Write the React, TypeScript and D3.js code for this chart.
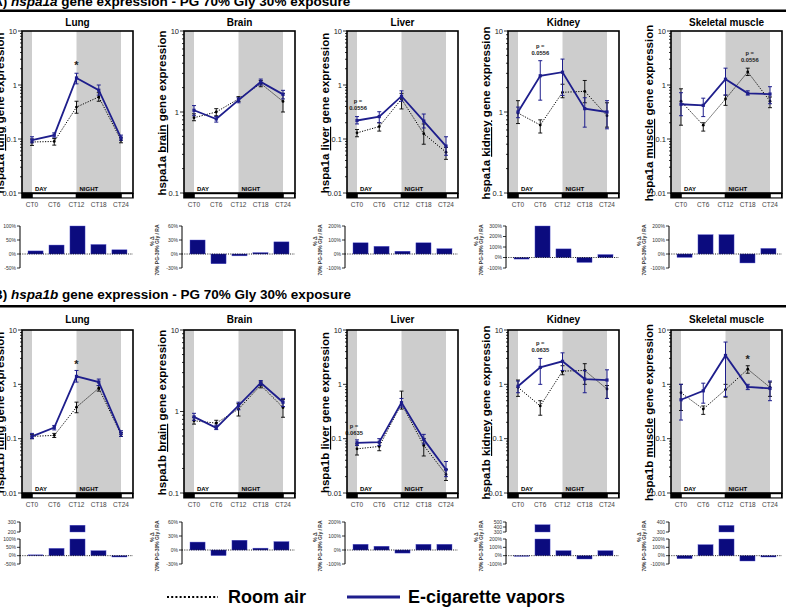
import React from "react";
import * as d3 from "d3";

const FONT = "'Liberation Sans', Arial, Helvetica, sans-serif";
const NAVY = "#1e1e8c";
const BARFILL = "#0b0b7e";
const GREY = "#cdcdcd";

const hours = [0, 6, 12, 18, 24];
const ctLabels = ["CT0", "CT6", "CT12", "CT18", "CT24"];
const tissues = ["Lung", "Brain", "Liver", "Kidney", "Skeletal muscle"];
const tissueWords = ["lung", "brain", "liver", "kidney", "muscle"];

// [mean, low, high] per time point, hspa1a (A)
const lungA_RA = [[0.088, 0.076, 0.1], [0.09, 0.077, 0.102], [0.39, 0.3, 0.5], [0.6, 0.5, 0.72], [0.095, 0.085, 0.105]];
const lungA_EC = [[0.095, 0.085, 0.11], [0.118, 0.108, 0.13], [1.35, 1.05, 1.65], [0.8, 0.65, 1.0], [0.105, 0.095, 0.118]];
const brainA_RA = [[0.85, 0.78, 0.95], [1.0, 0.9, 1.1], [1.45, 1.35, 1.55], [2.25, 2.05, 2.45], [1.35, 1.0, 1.7]];
const brainA_EC = [[1.05, 0.9, 1.2], [0.82, 0.75, 0.88], [1.4, 1.3, 1.5], [2.35, 2.15, 2.55], [1.65, 1.45, 1.85]];
const liverA_RA = [[0.13, 0.11, 0.15], [0.17, 0.14, 0.2], [0.55, 0.36, 0.7], [0.125, 0.08, 0.19], [0.057, 0.042, 0.07]];
const liverA_EC = [[0.22, 0.19, 0.26], [0.26, 0.2, 0.32], [0.62, 0.5, 0.78], [0.215, 0.16, 0.29], [0.074, 0.05, 0.11]];
const kidneyA_RA = [[0.97, 0.72, 1.38], [0.69, 0.55, 0.8], [1.75, 1.5, 2.2], [1.8, 1.3, 2.45], [0.9, 0.65, 1.3]];
const kidneyA_EC = [[1.0, 0.85, 1.15], [2.8, 1.4, 4.3], [3.1, 1.6, 4.5], [1.1, 0.65, 1.5], [1.0, 0.62, 1.38]];
const muscleA_RA = [[0.5, 0.18, 0.85], [0.18, 0.14, 0.2], [0.55, 0.42, 0.65], [1.75, 1.5, 2.05], [0.5, 0.38, 0.6]];
const muscleA_EC = [[0.44, 0.27, 0.72], [0.42, 0.26, 0.57], [1.28, 0.65, 2.05], [0.7, 0.65, 0.78], [0.68, 0.45, 0.93]];

// hspa1b (B)
const lungB_RA = [[0.11, 0.1, 0.12], [0.115, 0.105, 0.125], [0.38, 0.3, 0.47], [0.85, 0.75, 0.95], [0.12, 0.11, 0.13]];
const lungB_EC = [[0.11, 0.1, 0.125], [0.16, 0.145, 0.175], [1.4, 1.1, 1.8], [1.1, 0.95, 1.25], [0.125, 0.11, 0.14]];
const brainB_RA = [[0.77, 0.7, 0.85], [0.72, 0.66, 0.78], [1.07, 0.88, 1.25], [2.1, 1.95, 2.3], [1.12, 0.85, 1.4]];
const brainB_EC = [[0.86, 0.78, 0.95], [0.63, 0.6, 0.68], [1.18, 1.05, 1.3], [2.25, 2.1, 2.4], [1.3, 1.15, 1.45]];
const liverB_RA = [[0.065, 0.05, 0.08], [0.072, 0.06, 0.085], [0.44, 0.35, 0.75], [0.075, 0.048, 0.1], [0.022, 0.017, 0.027]];
const liverB_EC = [[0.084, 0.075, 0.095], [0.086, 0.075, 0.1], [0.46, 0.38, 0.55], [0.097, 0.08, 0.12], [0.027, 0.02, 0.038]];
const kidneyB_RA = [[0.88, 0.6, 1.2], [0.4, 0.27, 0.5], [1.75, 1.5, 2.2], [1.8, 1.0, 2.4], [0.82, 0.55, 0.95]];
const kidneyB_EC = [[0.92, 0.7, 1.15], [2.05, 1.0, 3.0], [2.65, 1.8, 3.8], [1.25, 0.7, 1.8], [1.2, 0.55, 1.85]];
const muscleB_RA = [[0.7, 0.33, 1.0], [0.35, 0.28, 0.4], [0.8, 0.58, 1.0], [1.9, 1.6, 2.2], [0.88, 0.6, 1.1]];
const muscleB_EC = [[0.52, 0.22, 1.0], [0.76, 0.45, 1.05], [3.4, 0.6, 6.0], [0.9, 0.8, 1.0], [0.84, 0.5, 1.15]];

// % change 70% PG-30% Gly vs room air
const deltaA = [
  [11, 32, 100, 34, 15],
  [30, -21, -4, 3, 26],
  [80, 55, 20, 80, 38],
  [-15, 300, 82, -47, 28],
  [-24, 138, 138, -64, 40],
];
const deltaB = [
  [5, 44, 268, 30, -8],
  [17, -12, 21, 4, 18],
  [41, 27, -22, 41, 41],
  [-8, 445, 60, -40, 60],
  [-36, 132, 366, -64, -16],
];

const yMinA = [0.01, 0.1, 0.01, 0.1, 0.01];
const yMinB = [0.01, 0.1, 0.01, 0.01, 0.01];

const barAxesA = [
  { lower: [-50, 100], lowerTicks: [-50, 0, 50, 100] },
  { lower: [-30, 60], lowerTicks: [-30, 0, 30, 60] },
  { lower: [-100, 200], lowerTicks: [-100, 0, 100, 200] },
  { lower: [-100, 300], lowerTicks: [-100, 0, 100, 200, 300] },
  { lower: [-100, 200], lowerTicks: [-100, 0, 100, 200] },
];
const barAxesB = [
  { lower: [-50, 100], lowerTicks: [-50, 0, 50, 100], upper: [200, 300], upperTicks: [200, 300] },
  { lower: [-30, 60], lowerTicks: [-30, 0, 30, 60] },
  { lower: [-100, 200], lowerTicks: [-100, 0, 100, 200] },
  { lower: [-100, 200], lowerTicks: [-100, 0, 100, 200], upper: [300, 500], upperTicks: [300, 400, 500] },
  { lower: [-100, 200], lowerTicks: [-100, 0, 100, 200], upper: [300, 400], upperTicks: [300, 400] },
];

const notesA = [
  { col: 0, t: 12, v: 2.0, dx: 0, lines: ["*"] },
  { col: 2, t: 0, v: 0.46, dx: 1, lines: ["p =", "0.0556"] },
  { col: 3, t: 6, v: 6.2, dx: 0, lines: ["p =", "0.0556"] },
  { col: 4, t: 18, v: 3.6, dx: 2, lines: ["p =", "0.0556"] },
];
const notesB = [
  { col: 0, t: 12, v: 2.0, dx: 0, lines: ["*"] },
  { col: 2, t: 0, v: 0.16, dx: -3, lines: ["p =", "0.0635"] },
  { col: 3, t: 6, v: 5.3, dx: 0, lines: ["p =", "0.0635"] },
  { col: 4, t: 18, v: 2.45, dx: 0, lines: ["*"] },
];

const colLefts = [22, 184, 347, 508, 671];
const PW = 111;
const rows = [
  { gene: "hspa1a", letter: "A)", plotTop: 31, plotBottom: 193, titleY: 26, barTop: 226, barBottom: 268, headY: 6, ruleY: 9.5,
    ra: [lungA_RA, brainA_RA, liverA_RA, kidneyA_RA, muscleA_RA], ec: [lungA_EC, brainA_EC, liverA_EC, kidneyA_EC, muscleA_EC],
    yMin: yMinA, delta: deltaA, axes: barAxesA, notes: notesA },
  { gene: "hspa1b", letter: "B)", plotTop: 330, plotBottom: 493, titleY: 323, barTop: 522, barBottom: 564, headY: 299, ruleY: 305,
    ra: [lungB_RA, brainB_RA, liverB_RA, kidneyB_RA, muscleB_RA], ec: [lungB_EC, brainB_EC, liverB_EC, kidneyB_EC, muscleB_EC],
    yMin: yMinB, delta: deltaB, axes: barAxesB, notes: notesB },
];

function isDecade(t: number) {
  const l = Math.log10(t);
  return Math.abs(l - Math.round(l)) < 1e-6;
}

function linePanel(row: any, col: number) {
  const left = colLefts[col];
  const { plotTop, plotBottom } = row;
  const x = d3.scaleLinear().domain([0, 24]).range([left + 10, left + 99]);
  const y = d3.scaleLog().domain([row.yMin[col], 10]).range([plotBottom, plotTop]);
  const line = d3.line<number[]>().x((d, i) => x(hours[i])).y((d) => y(d[0]));
  const ra = row.ra[col];
  const ec = row.ec[col];
  const cy = (plotTop + plotBottom) / 2 + 1;

  const errBars = (data: number[][], color: string, w: number) =>
    data.map((d, i) => {
      const xx = x(hours[i]);
      return (
        <g key={i} stroke={color} strokeWidth={w}>
          <line x1={xx} x2={xx} y1={y(d[1])} y2={y(d[2])} />
          <line x1={xx - 2} x2={xx + 2} y1={y(d[1])} y2={y(d[1])} />
          <line x1={xx - 2} x2={xx + 2} y1={y(d[2])} y2={y(d[2])} />
        </g>
      );
    });

  return (
    <g key={"lp" + col}>
      <text x={left + PW / 2} y={row.titleY} textAnchor="middle" fontSize={10} fontWeight="bold">
        {tissues[col]}
      </text>
      <text transform={`translate(${left - 18},${cy}) rotate(-90)`} textAnchor="middle" fontSize={11.5} fontWeight="bold">
        {row.gene + " "}
        <tspan textDecoration="underline" style={{ textDecoration: "underline" }}>{tissueWords[col]}</tspan>
        {" gene expression"}
      </text>
      <rect x={left} y={plotTop} width={x(0) - left} height={plotBottom - plotTop} fill={GREY} />
      <rect x={x(12)} y={plotTop} width={x(24) - x(12)} height={plotBottom - plotTop} fill={GREY} />
      {y.ticks().map((t, i) => {
        const len = isDecade(t) ? 4 : 2;
        return <line key={i} x1={left - len} x2={left} y1={y(t)} y2={y(t)} stroke="#000" strokeWidth={0.8} />;
      })}
      {y.ticks().filter(isDecade).map((t, i) => (
        <text key={"l" + i} x={left - 5} y={y(t) + 2.5} textAnchor="end" fontSize={7.5} fill="#222">
          {String(t)}
        </text>
      ))}
      <text x={x(0) + 3} y={plotBottom - 2.5} fontSize={6} fontWeight="bold">DAY</text>
      <text x={x(12) + 3} y={plotBottom - 2.5} fontSize={6} fontWeight="bold">NIGHT</text>
      {/* room air */}
      <path d={line(ra) || ""} fill="none" stroke="#000" strokeWidth={1} strokeDasharray="1.2,1.4" />
      {errBars(ra, "#000", 0.9)}
      {ra.map((d: number[], i: number) => (
        <circle key={"m" + i} cx={x(hours[i])} cy={y(d[0])} r={1.4} fill="#000" />
      ))}
      {/* e-cig */}
      <path d={line(ec) || ""} fill="none" stroke={NAVY} strokeWidth={1.8} />
      {errBars(ec, NAVY, 1)}
      {ec.map((d: number[], i: number) => (
        <rect key={"e" + i} x={x(hours[i]) - 1.6} y={y(d[0]) - 1.6} width={3.2} height={3.2} fill={NAVY} />
      ))}
      {row.notes.filter((n: any) => n.col === col).map((n: any, i: number) => (
        <g key={"n" + i}>
          {n.lines.map((s: string, j: number) => (
            <text key={j} x={x(n.t) + n.dx} y={y(n.v) + j * 7} textAnchor="middle"
              fontSize={s === "*" ? 11 : 5.8} fontWeight="bold" fill="#222">{s}</text>
          ))}
        </g>
      ))}
      <rect x={left} y={plotTop} width={PW} height={plotBottom - plotTop} fill="none" stroke="#000" strokeWidth={1.6} />
      <rect x={left - 0.8} y={plotBottom} width={PW + 1.6} height={5.5} fill="#000" />
      <rect x={x(0) + 0.8} y={plotBottom + 1.2} width={x(12) - x(0) - 1.6} height={3.2} fill="#fff" />
      <rect x={x(24) + 0.8} y={plotBottom + 1.2} width={left + PW - x(24) - 1.8} height={3.2} fill="#fff" />
      {ctLabels.map((c, i) => (
        <text key={c} x={x(hours[i])} y={plotBottom + 13.5} textAnchor="middle" fontSize={6.5} fill="#444">
          {c}
        </text>
      ))}
    </g>
  );
}

function barPanel(row: any, col: number) {
  const left = colLefts[col];
  const ax = left - 2;
  const cfg = row.axes[col];
  const vals: number[] = row.delta[col];
  const bx = d3.scaleBand<string>().domain(ctLabels).range([left + 6, left + 105]).paddingInner(0.28);
  const broken = !!cfg.upper;
  const lowTop = broken ? row.barTop + 17 : row.barTop;
  const yl = d3.scaleLinear().domain(cfg.lower).range([row.barBottom, lowTop]);
  const yu = broken ? d3.scaleLinear().domain(cfg.upper).range([row.barTop + 10, row.barTop]) : null;
  const cy = row.barTop + 24;

  const tickG = (scale: any, ticks: number[], pct: boolean, prefix: string) =>
    ticks.map((t) => (
      <g key={prefix + t}>
        <line x1={ax - 3} x2={ax} y1={scale(t)} y2={scale(t)} stroke="#000" strokeWidth={0.8} />
        <text x={ax - 4} y={scale(t) + 1.8} textAnchor="end" fontSize={5} fill="#333">
          {t + (pct ? "%" : "")}
        </text>
      </g>
    ));

  return (
    <g key={"bp" + col}>
      <text transform={`translate(${ax - 28},${cy - 9}) rotate(-90)`} textAnchor="middle" fontSize={5} fontWeight="bold" fill="#333">
        % Δ
      </text>
      <text transform={`translate(${ax - 23},${cy}) rotate(-90)`} textAnchor="middle" fontSize={5} fontWeight="bold" fill="#333">
        70% PG-30% Gly / RA
      </text>
      {vals.map((v, i) => {
        const bxx = bx(ctLabels[i]) as number;
        const w = bx.bandwidth();
        const parts = [];
        if (v >= 0) {
          const top = Math.min(v, cfg.lower[1]);
          parts.push(<rect key="a" x={bxx} y={yl(top)} width={w} height={yl(0) - yl(top)} fill={BARFILL} stroke="#5a5ad0" strokeWidth={0.4} />);
          if (broken && yu && v > cfg.lower[1]) {
            parts.push(<rect key="b" x={bxx} y={yu(v)} width={w} height={yu(cfg.upper[0]) - yu(v)} fill={BARFILL} stroke="#5a5ad0" strokeWidth={0.4} />);
          }
        } else {
          parts.push(<rect key="a" x={bxx} y={yl(0)} width={w} height={yl(v) - yl(0)} fill={BARFILL} stroke="#5a5ad0" strokeWidth={0.4} />);
        }
        return <g key={i}>{parts}</g>;
      })}
      <line x1={ax} x2={left + PW} y1={yl(0)} y2={yl(0)} stroke="#000" strokeWidth={0.9} strokeDasharray="1,1.3" />
      <line x1={ax} x2={ax} y1={lowTop} y2={row.barBottom} stroke="#000" strokeWidth={1} />
      {tickG(yl, cfg.lowerTicks, true, "l")}
      {broken && yu && (
        <g>
          <line x1={ax} x2={ax} y1={row.barTop} y2={row.barTop + 10} stroke="#000" strokeWidth={1} />
          {tickG(yu, cfg.upperTicks, false, "u")}
        </g>
      )}
    </g>
  );
}

export default function App() {
  return (
    <svg width={786} height={608} style={{ position: "absolute", left: 0, top: 0, background: "#fff" }} fontFamily={FONT}>
      <rect x={0} y={0} width={786} height={608} fill="#fff" />
      {rows.map((row, r) => (
        <g key={r}>
          <text x={-7} y={row.headY} fontSize={13.5} fontWeight="bold">
            {row.letter + " "}
            <tspan fontStyle="italic">{row.gene}</tspan>
            {" gene expression - PG 70% Gly 30% exposure"}
          </text>
          <rect x={0} y={row.ruleY} width={786} height={2.5} fill="#000" />
          {colLefts.map((_, c) => linePanel(row, c))}
          {colLefts.map((_, c) => barPanel(row, c))}
        </g>
      ))}
      <line x1={167} x2={218} y1={597} y2={597} stroke="#000" strokeWidth={2.2} strokeDasharray="2,2.2" />
      <text x={228} y={603} fontSize={18} fontWeight="bold">Room air</text>
      <line x1={347} x2={400} y1={597} y2={597} stroke={NAVY} strokeWidth={3} />
      <text x={408} y={603} fontSize={18} fontWeight="bold">E-cigarette vapors</text>
    </svg>
  );
}
